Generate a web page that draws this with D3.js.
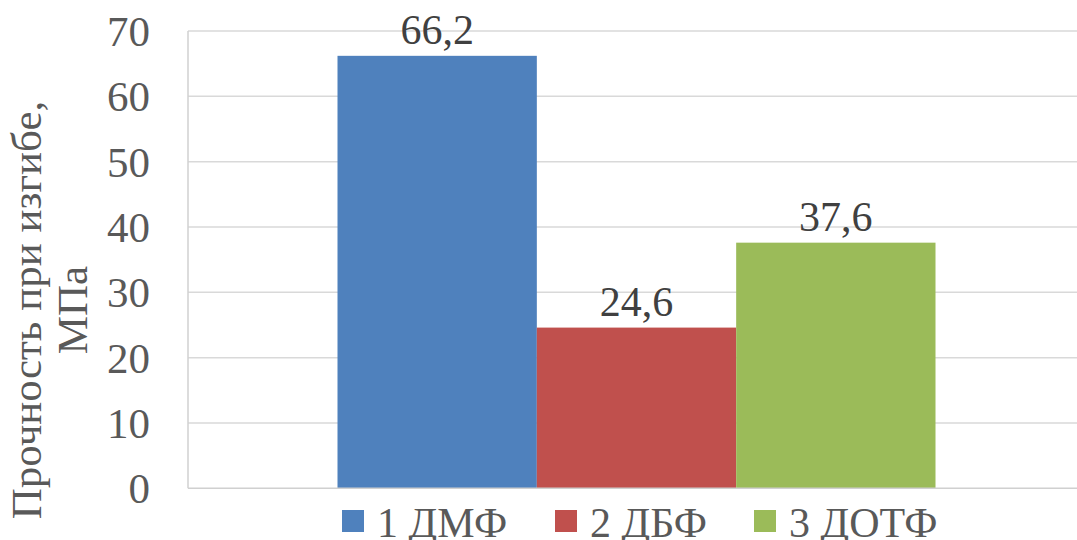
<!DOCTYPE html>
<html>
<head>
<meta charset="utf-8">
<script src="https://cdn.jsdelivr.net/npm/d3@7"></script>
</head>
<body style="margin:0;padding:0;background:#fff">
<svg id="chart" width="1077" height="540" style="display:block"></svg>
<script>
// Flexural strength of the three samples
const categories = [""];
const seriesNames = ["1 ДМФ", "2 ДБФ", "3 ДОТФ"];
const seriesValues = [66.2, 24.6, 37.6];
const seriesColors = ["#4f81bd", "#c0504d", "#9bbb59"];
const yTicks = [0, 10, 20, 30, 40, 50, 60, 70];
const valueLabels = ["66,2", "24,6", "37,6"];
const yTitleLines = ["Прочность при изгибе,", "МПа"];

const FONT = '"Times New Roman", Tinos, Times, serif';
const svg = d3.select("#chart");
const plot = { left: 188, right: 1085, top: 31, bottom: 488.3 };

const y = d3.scaleLinear().domain([0, 70]).range([plot.bottom, plot.top]);
const x0 = d3.scaleBand().domain(categories).range([plot.left, plot.right])
  .paddingInner(0).paddingOuter(0.25);
const x1 = d3.scaleBand().domain(seriesNames).range([0, x0.bandwidth()]);

// gridlines
svg.append("g").selectAll("line").data(yTicks.filter(d => d > 0)).join("line")
  .attr("x1", plot.left).attr("x2", plot.right)
  .attr("y1", d => y(d)).attr("y2", d => y(d))
  .attr("stroke", "#d9d9d9").attr("stroke-width", 1.5);

// bars
const group = svg.append("g").attr("transform", `translate(${x0(categories[0])},0)`);
group.selectAll("rect").data(seriesNames).join("rect")
  .attr("x", d => x1(d))
  .attr("width", x1.bandwidth())
  .attr("y", (d, i) => y(seriesValues[i]))
  .attr("height", (d, i) => y(0) - y(seriesValues[i]))
  .attr("fill", (d, i) => seriesColors[i]);

// value labels
group.selectAll("text").data(seriesNames).join("text")
  .attr("x", d => x1(d) + x1.bandwidth() / 2)
  .attr("y", (d, i) => y(seriesValues[i]) - 12)
  .attr("text-anchor", "middle")
  .style("font-family", FONT).attr("font-size", 42)
  .attr("fill", "#404040")
  .text((d, i) => valueLabels[i]);

// axis lines
svg.append("line").attr("x1", plot.left).attr("x2", plot.right)
  .attr("y1", y(0)).attr("y2", y(0)).attr("stroke", "#d0d0d0").attr("stroke-width", 1.5);
svg.append("line").attr("x1", plot.left).attr("x2", plot.left)
  .attr("y1", plot.top).attr("y2", y(0)).attr("stroke", "#d0d0d0").attr("stroke-width", 1.5);

// y tick labels
const yAxis = d3.axisLeft(y).tickValues(yTicks).tickSize(0).tickPadding(38);
const ya = svg.append("g").attr("transform", `translate(${plot.left},0)`).call(yAxis);
ya.select(".domain").remove();
ya.selectAll("text")
  .style("font-family", FONT).attr("font-size", 43)
  .attr("fill", "#595959").attr("dy", "0.34em");

// y axis title
const title = svg.append("text")
  .attr("transform", "translate(0,310) rotate(-90)")
  .attr("text-anchor", "middle")
  .style("font-family", FONT).attr("font-size", 43)
  .attr("fill", "#595959");
title.selectAll("tspan").data(yTitleLines).join("tspan")
  .attr("x", 0).attr("y", (d, i) => 41 + i * 46)
  .text(d => d);

// legend
const legendX = [342, 555, 754];
const legend = svg.append("g").selectAll("g").data(seriesNames).join("g")
  .attr("transform", (d, i) => `translate(${legendX[i]},510)`);
legend.append("rect").attr("width", 22).attr("height", 22)
  .attr("fill", (d, i) => seriesColors[i]);
legend.append("text").attr("x", 35).attr("y", 27)
  .style("font-family", FONT).attr("font-size", 42)
  .attr("fill", "#595959")
  .text(d => d);
</script>
</body>
</html>
